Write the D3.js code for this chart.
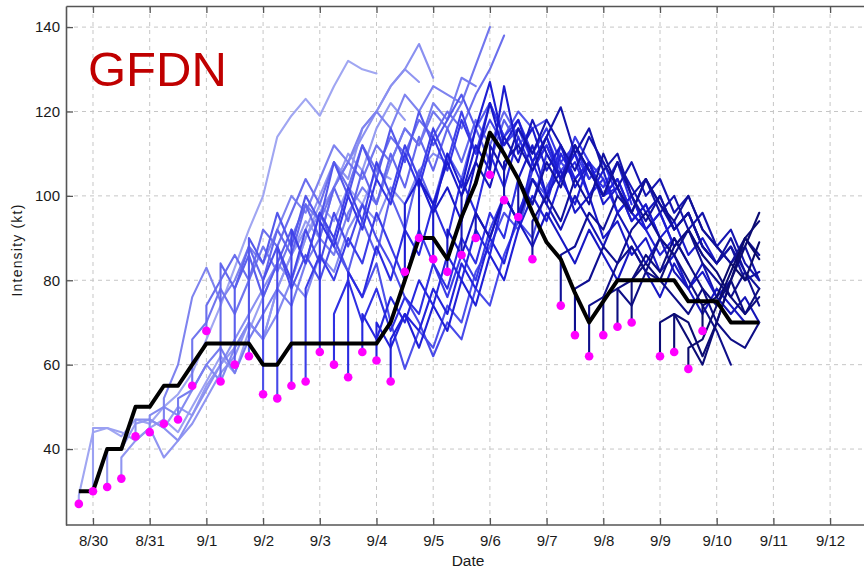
<!DOCTYPE html>
<html><head><meta charset="utf-8">
<script src="https://cdn.jsdelivr.net/npm/d3@7"></script>
<style>body{margin:0;background:#fff}svg{display:block}</style>
</head><body>
<svg id="chart" width="864" height="570"></svg>
<script>
// ---- data (time in days since 8/30 00Z) ----
const dayTicks = [0,1,2,3,4,5,6,7,8,9,10,11,12,13];
const dayLabels = ["8/30","8/31","9/1","9/2","9/3","9/4","9/5","9/6","9/7","9/8","9/9","9/10","9/11","9/12"];
const yTicks = [40,60,80,100,120,140];

const bestTrackDay = [-0.25,0,0.25,0.5,0.75,1,1.25,1.5,1.75,2,2.25,2.5,2.75,3,3.25,3.5,3.75,4,4.25,4.5,4.75,5,5.25,5.5,5.75,6,6.25,6.5,6.75,7,7.25,7.5,7.75,8,8.25,8.5,8.75,9,9.25,9.5,9.75,10,10.25,10.5,10.75,11,11.25,11.5,11.75];
const bestTrackKt  = [30,30,40,40,50,50,55,55,60,65,65,65,65,60,60,65,65,65,65,65,65,65,70,80,90,90,85,95,103,115,110,104,96,89,85,77,70,75,80,80,80,80,80,75,75,75,70,70,70];

const initDay = [-0.25,0,0.25,0.5,0.75,1,1.25,1.5,1.75,2,2.25,2.5,2.75,3,3.25,3.5,3.75,4,4.25,4.5,4.75,5,5.25,5.5,5.75,6,6.25,6.5,6.75,7,7.25,7.5,7.75,8.25,8.5,8.75,9,9.25,9.5,10,10.25,10.5,10.75];
const initKt  = [27,30,31,33,43,44,46,47,55,68,56,60,62,53,52,55,56,63,60,57,63,61,56,82,90,85,82,86,90,105,99,95,85,74,67,62,67,69,70,62,63,59,68];

const leadStepDays = 0.25; // 6-hourly forecast output, lead 0 h first
const forecastKt = [
 [29,44,45,43,47,46,50,53,58,66,74,83,92,100,114,119,123,119,126,132,130,129],
 [45,45,44,42,45,47,44,50,56,62,58,68,76,84,80,90,98,94,102,98,106,104],
 [40,40,46,47,45,50,48,55,60,64,70,66,78,86,94,90,102,110,106,116,122,118],
 [38,42,45,38,42,46,52,58,62,70,66,78,86,92,100,108,104,116,120,126,130,127],
 [47,47,45,42,48,54,60,66,72,78,84,80,90,96,102,108,114,120,126,130,136,128],
 [48,50,48,54,60,56,64,70,66,72,80,76,86,82,92,98,94,102,98,106,110,108],
 [52,60,76,83,75,80,88,84,92,100,96,104,112,108,116,120,116,124,120,126,124,122],
 [52,54,60,64,58,66,72,78,74,84,90,86,96,102,98,108,116,112,122,118,128,126],
 [66,70,78,72,80,88,82,90,98,94,102,108,104,112,108,116,112,120,116,122,131,140],
 [74,80,86,80,92,88,96,104,98,108,102,112,106,114,110,118,114,120,116,124,130,138],
 [84,78,88,80,92,86,98,90,102,94,106,98,110,102,114,106,116,108,118,112,120,114],
 [78,86,76,84,92,84,96,88,82,94,86,100,92,106,98,110,104,116,108,118,112,116],
 [90,84,96,88,100,94,108,100,112,104,116,108,120,112,118,124,116,122,114,120,116,118],
 [80,88,78,86,80,90,82,76,84,70,59,68,64,74,70,82,88,96,92,104,100,110],
 [88,80,92,84,96,88,98,90,84,76,70,62,70,66,78,74,86,94,90,102,108,104],
 [92,84,96,90,102,94,108,100,112,104,116,108,120,110,118,112,116,108,114,106,110,104],
 [78,86,80,90,84,96,88,80,92,84,76,86,80,92,100,94,106,112,104,114,108,104],
 [94,88,100,92,104,98,110,102,114,106,118,110,122,114,118,110,116,108,112,104,108,100],
 [72,80,70,78,68,76,72,84,78,90,84,96,90,104,98,110,104,112,106,102,108,98],
 [82,76,88,80,92,86,98,90,104,96,110,102,114,106,112,104,108,100,104,96,100,92],
 [72,66,76,70,80,74,86,80,92,86,100,94,108,100,112,104,108,100,102,94,98,90],
 [70,64,72,68,78,72,84,78,90,84,96,104,98,110,104,108,100,104,96,92,96,88],
 [66,72,64,74,68,80,74,86,80,92,100,94,104,98,108,100,104,96,92,86,90,84],
 [98,104,96,110,102,116,127,112,118,108,114,104,110,100,106,96,100,92,96,88,92,86],
 [104,98,108,100,112,106,126,110,116,106,112,102,108,98,102,94,98,90,94,86,90,84],
 [96,102,94,108,122,110,104,112,100,106,96,100,90,94,86,90,82,86,78,82,76,80],
 [92,86,96,90,100,94,88,96,90,84,92,86,80,88,82,76,84,78,72,78,74,70],
 [100,108,102,114,108,118,110,104,112,106,100,108,102,96,100,92,96,88,84,88,82],
 [96,90,100,94,104,98,92,100,94,88,96,90,84,90,82,78,84,76,72,76,70],
 [112,106,116,110,118,112,106,114,108,102,108,100,104,96,100,92,88,92,84,80],
 [108,112,106,114,121,110,116,106,110,100,104,96,100,92,96,88,84,88,80],
 [104,98,108,102,112,106,100,108,100,94,100,92,96,88,84,88,80,82],
 [94,100,94,104,98,110,102,96,104,98,92,96,88,84,90,82,78],
 [86,88,96,92,100,96,104,98,94,100,92,88,84,90,86],
 [78,80,88,84,92,96,90,86,92,84,80,76,82,74],
 [74,76,84,88,82,90,86,80,74,68,60],
 [76,78,74,82,80,76,72,78,70,66,64,70],
 [78,80,86,82,90,84,78,74,80,72,76],
 [80,84,80,88,92,86,82,76,72,78],
 [70,72,66,60,70,80,90,94],
 [72,70,62,70,80,88,96],
 [64,66,74,82,90,85],
 [74,76,84,80,89]
];

// ---- chart ----
const svg = d3.select("#chart");
const L = 66, R = 880, T = 6, B = 525;
const x = d3.scaleLinear().domain([-0.476, 13.88]).range([L, R]);
const y = d3.scaleLinear().domain([22, 145]).range([B, T]);
const font = "'Liberation Sans', Arial, Helvetica, sans-serif";

svg.append("defs").append("clipPath").attr("id","clip")
  .append("rect").attr("x",L).attr("y",T).attr("width",R-L).attr("height",B-T);

// grid
const grid = svg.append("g").attr("stroke","#c6c6c6").attr("stroke-width",1).attr("stroke-dasharray","4,4");
grid.selectAll("line.v").data(dayTicks).join("line").attr("class","v")
  .attr("x1",d=>x(d)).attr("x2",d=>x(d)).attr("y1",T).attr("y2",B);
grid.selectAll("line.h").data(yTicks).join("line").attr("class","h")
  .attr("x1",L).attr("x2",R).attr("y1",d=>y(d)).attr("y2",d=>y(d));

// title text
svg.append("text").attr("x",88).attr("y",86).attr("font-family",font)
  .attr("font-size",49).attr("fill","#c00000").text("GFDN");

// forecasts
const plot = svg.append("g").attr("clip-path","url(#clip)");
const color = d3.interpolateRgbBasis(["#a0a6f2","#7a80ef","#4446ea","#1e1ee0","#1414b8","#0e0e88","#0b0b6a"]);
const line = d3.line().x(d=>x(d[0])).y(d=>y(d[1]));
const n = forecastKt.length;
forecastKt.forEach((vals,i)=>{
  const pts = [[initDay[i], initKt[i]]].concat(vals.map((v,k)=>[initDay[i]+k*leadStepDays, v]));
  plot.append("path").attr("d",line(pts)).attr("fill","none")
    .attr("stroke",color(i/(n-1))).attr("stroke-width",2.1)
    .attr("stroke-linejoin","round").attr("stroke-linecap","round");
});

// best track
plot.append("path").attr("d",line(bestTrackDay.map((d,i)=>[d,bestTrackKt[i]])))
  .attr("fill","none").attr("stroke","#000").attr("stroke-width",4)
  .attr("stroke-linejoin","round");

// initial intensity dots
plot.selectAll("circle").data(initDay).join("circle")
  .attr("cx",d=>x(d)).attr("cy",(d,i)=>y(initKt[i])).attr("r",4.3).attr("fill","#ff00ff");

// axes
const axisColor = "#555";
const gB = svg.append("g").attr("transform",`translate(0,${B})`)
  .call(d3.axisBottom(x).tickValues(dayTicks).tickFormat((d,i)=>dayLabels[i]).tickSizeInner(-7).tickSizeOuter(0).tickPadding(10));
const gT = svg.append("g").attr("transform",`translate(0,${T})`)
  .call(d3.axisTop(x).tickValues(dayTicks).tickFormat("").tickSizeInner(-7).tickSizeOuter(0));
const gL = svg.append("g").attr("transform",`translate(${L},0)`)
  .call(d3.axisLeft(y).tickValues(yTicks).tickSizeInner(-7).tickSizeOuter(0).tickPadding(6));
[gB,gT,gL].forEach(g=>{
  g.select(".domain").attr("stroke",axisColor).attr("stroke-width",1.6);
  g.selectAll(".tick line").attr("stroke",axisColor).attr("stroke-width",1.3);
  g.selectAll("text").attr("font-family",font).attr("font-size",15).attr("fill","#1a1a1a");
});
gB.select(".domain").attr("d",`M${L},0H${R}`);

svg.append("text").attr("x",468).attr("y",566).attr("text-anchor","middle")
  .attr("font-family",font).attr("font-size",15.5).attr("fill","#1a1a1a").text("Date");
svg.append("text").attr("transform","translate(22,250) rotate(-90)").attr("text-anchor","middle")
  .attr("font-family",font).attr("font-size",14).attr("letter-spacing",1.2).attr("fill","#1a1a1a").text("Intensity (kt)");
</script>
</body></html>
